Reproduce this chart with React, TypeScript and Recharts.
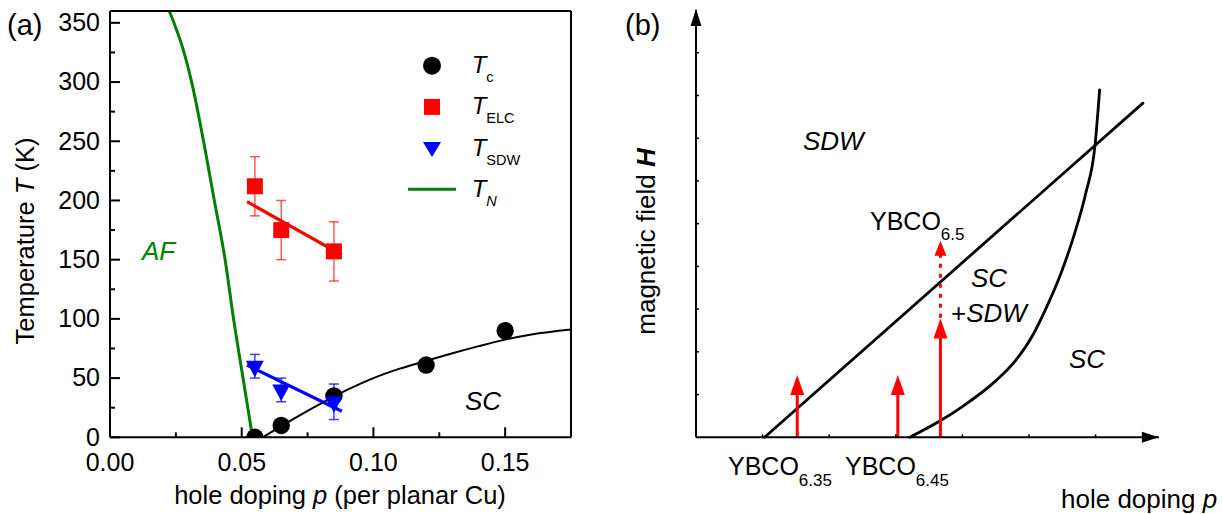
import React from 'react';
import { ComposedChart, Line, Scatter, XAxis, YAxis, ErrorBar, Legend } from 'recharts';

const FONT = '"Liberation Sans", Arial, Helvetica, sans-serif';
const GREEN = '#008000';
const RED = '#ff0000';
const BLUE = '#0000ff';

// ---- panel (a): phase diagram data ----
const tcPoints = [
  { p: 0.055, T: 0 },
  { p: 0.065, T: 10 },
  { p: 0.085, T: 35 },
  { p: 0.12, T: 61 },
  { p: 0.15, T: 90 },
];
const elcPoints = [
  { p: 0.055, T: 212, err: 25 },
  { p: 0.065, T: 175, err: 25 },
  { p: 0.085, T: 157, err: 25 },
];
const sdwPoints = [
  { p: 0.055, T: 60, err: 10 },
  { p: 0.065, T: 40, err: 10 },
  { p: 0.085, T: 30, err: 15 },
];
const elcFit = [
  { p: 0.052, T: 199 },
  { p: 0.088, T: 154 },
];
const sdwFit = [
  { p: 0.052, T: 61 },
  { p: 0.088, T: 22 },
];
const tcCurve = [
  { p: 0.058, T: 0 },
  { p: 0.065, T: 9.5 },
  { p: 0.07, T: 16 },
  { p: 0.08, T: 28.5 },
  { p: 0.09, T: 40 },
  { p: 0.1, T: 50 },
  { p: 0.11, T: 58 },
  { p: 0.12, T: 64.5 },
  { p: 0.13, T: 71 },
  { p: 0.14, T: 77 },
  { p: 0.15, T: 82.5 },
  { p: 0.16, T: 86.8 },
  { p: 0.175, T: 91 },
];
const tnCurve = [
  { p: 0.0225, T: 360 },
  { p: 0.0281, T: 325 },
  { p: 0.031, T: 300 },
  { p: 0.0361, T: 243 },
  { p: 0.0396, T: 200 },
  { p: 0.0437, T: 150 },
  { p: 0.0469, T: 100 },
  { p: 0.0505, T: 50 },
  { p: 0.0541, T: 0 },
];
const xTicksA = [0, 0.025, 0.05, 0.075, 0.1, 0.125, 0.15];
const yTicksA = [0, 25, 50, 75, 100, 125, 150, 175, 200, 225, 250, 275, 300, 325, 350];

const legendItems = [
  { sub: 'c', shape: 'circle', color: '#000', italicSub: false },
  { sub: 'ELC', shape: 'square', color: RED, italicSub: false },
  { sub: 'SDW', shape: 'triangle', color: BLUE, italicSub: false },
  { sub: 'N', shape: 'line', color: GREEN, italicSub: true },
];

// ---- panel (b): schematic H-p diagram (arbitrary units) ----
const sdwBoundary = [
  { u: 1.03, v: 0 },
  { u: 6.71, v: 7.82 },
];
const scBoundary = [
  { u: 3.21, v: 0 },
  { u: 3.66, v: 0.38 },
  { u: 4.0, v: 0.72 },
  { u: 4.5, v: 1.32 },
  { u: 4.8, v: 1.8 },
  { u: 5.06, v: 2.4 },
  { u: 5.25, v: 3.0 },
  { u: 5.47, v: 3.8 },
  { u: 5.68, v: 4.75 },
  { u: 5.85, v: 5.7 },
  { u: 5.99, v: 6.82 },
  { u: 6.06, v: 8.13 },
];
const shaft635 = [
  { u: 1.52, v: 0 },
  { u: 1.52, v: 1.08 },
];
const shaft645 = [
  { u: 3.03, v: 0 },
  { u: 3.03, v: 1.08 },
];
const shaft65 = [
  { u: 3.67, v: 0 },
  { u: 3.67, v: 2.4 },
];
const shaft65Dotted = [
  { u: 3.67, v: 2.8 },
  { u: 3.67, v: 4.3 },
];
const arrowTips = [
  { u: 1.52, v: 1.46, small: false },
  { u: 3.03, v: 1.46, small: false },
  { u: 3.67, v: 2.78, small: false },
  { u: 3.67, v: 4.6, small: true },
];
const xArrow = [{ u: 6.95, v: 0 }];
const yArrow = [{ u: 0, v: 10 }];
const xTicksB = [1, 2, 3, 4, 5, 6];
const yTicksB = [1, 2, 3, 4, 5, 6, 7, 8, 9];

const isMajorX = (v: number) => Math.round(v * 1000) % 50 === 0;

const BottomTick = (props: any) => {
  const { x, y, payload } = props;
  const major = isMajorX(payload.value);
  return (
    <g>
      <line x1={x} x2={x} y1={y} y2={y - (major ? 10 : 5)} stroke="#000" strokeWidth={2} />
      {major && (
        <text x={x} y={y + 33.5} textAnchor="middle" fontSize={25} fill="#000" fontFamily={FONT}>
          {payload.value.toFixed(2)}
        </text>
      )}
    </g>
  );
};

const TopTick = (props: any) => {
  const { x, y, payload } = props;
  const major = isMajorX(payload.value);
  return <line x1={x} x2={x} y1={y} y2={y + (major ? 10 : 5)} stroke="#000" strokeWidth={2} />;
};

const LeftTick = (props: any) => {
  const { x, y, payload } = props;
  const major = payload.value % 50 === 0;
  return (
    <g>
      <line x1={x} x2={x + (major ? 10 : 5)} y1={y} y2={y} stroke="#000" strokeWidth={2} />
      {major && (
        <text x={x - 10} y={y} dy="0.33em" textAnchor="end" fontSize={25} fill="#000" fontFamily={FONT}>
          {payload.value}
        </text>
      )}
    </g>
  );
};

const RightTick = (props: any) => {
  const { x, y, payload } = props;
  const major = payload.value % 50 === 0;
  return <line x1={x} x2={x - (major ? 10 : 5)} y1={y} y2={y} stroke="#000" strokeWidth={2} />;
};

const SmallTickB = (props: any) => {
  const { x, y } = props;
  return <line x1={x} x2={x} y1={y} y2={y - 3} stroke="#000" strokeWidth={1.5} />;
};
const SmallTickL = (props: any) => {
  const { x, y } = props;
  return <line x1={x} x2={x + 3} y1={y} y2={y} stroke="#000" strokeWidth={1.5} />;
};

const CircleShape = (props: any) => <circle cx={props.cx} cy={props.cy} r={8.7} fill="#000" />;
const SquareShape = (props: any) => (
  <rect x={props.cx - 8} y={props.cy - 8} width={16} height={16} fill={RED} />
);
const TriangleShape = (props: any) => {
  const { cx, cy } = props;
  return <polygon points={`${cx - 9},${cy - 5.5} ${cx + 9},${cy - 5.5} ${cx},${cy + 11}`} fill={BLUE} />;
};
const RedHead = (props: any) => {
  const { cx, cy, payload } = props;
  const h = payload.small ? 15 : 20;
  const w = payload.small ? 6 : 7;
  return <polygon points={`${cx},${cy} ${cx - w},${cy + h} ${cx + w},${cy + h}`} fill={RED} />;
};
const XArrowHead = (props: any) => {
  const { cx, cy } = props;
  return <polygon points={`${cx},${cy} ${cx - 17},${cy - 5.5} ${cx - 17},${cy + 5.5}`} fill="#000" />;
};
const YArrowHead = (props: any) => {
  const { cx, cy } = props;
  return <polygon points={`${cx},${cy - 1} ${cx - 5.5},${cy + 16} ${cx + 5.5},${cy + 16}`} fill="#000" />;
};

const LegendContent = () => (
  <svg width={140} height={180} style={{ overflow: 'visible' }}>
    {legendItems.map((it, i) => {
      const cy = 25.7 + i * 41.2;
      const mx = 32;
      let mark: React.ReactNode = null;
      if (it.shape === 'circle') mark = <circle cx={mx} cy={cy} r={9} fill={it.color} />;
      if (it.shape === 'square') mark = <rect x={mx - 8} y={cy - 8} width={16} height={16} fill={it.color} />;
      if (it.shape === 'triangle')
        mark = <polygon points={`${mx - 9},${cy - 6} ${mx + 9},${cy - 6} ${mx},${cy + 9}`} fill={it.color} />;
      if (it.shape === 'line') mark = <line x1={mx - 24} x2={mx + 24} y1={cy} y2={cy} stroke={it.color} strokeWidth={3} />;
      return (
        <g key={it.sub}>
          {mark}
          <text x={71.7} y={cy + 7.5} fontFamily={FONT} fill="#000">
            <tspan fontSize={24} fontStyle="italic">T</tspan>
            <tspan fontSize={14.5} dy={9} fontStyle={it.italicSub ? 'italic' : 'normal'}>{it.sub}</tspan>
          </text>
        </g>
      );
    })}
  </svg>
);

const axisStroke = { stroke: '#000', strokeWidth: 2 };

const App: React.FC = () => {
  return (
    <div style={{ position: 'absolute', left: 0, top: 0, width: 1223, height: 514, background: '#fff', fontFamily: FONT }}>
      <div style={{ position: 'absolute', left: 0, top: 0 }}>
        <ComposedChart width={600} height={514} margin={{ top: 1, right: 19, bottom: 36.7, left: 50 }}>
          <XAxis
            dataKey="p"
            type="number"
            domain={[0, 0.175]}
            ticks={xTicksA}
            interval={0}
            allowDataOverflow
            height={40}
            tickSize={0}
            tickMargin={0}
            axisLine={axisStroke}
            tick={<BottomTick />}
          />
          <XAxis
            xAxisId="top"
            orientation="top"
            type="number"
            domain={[0, 0.175]}
            ticks={xTicksA}
            interval={0}
            height={10}
            tickSize={0}
            tickMargin={0}
            axisLine={axisStroke}
            tick={<TopTick />}
          />
          <YAxis
            type="number"
            domain={[0, 360]}
            ticks={yTicksA}
            interval={0}
            allowDataOverflow
            width={60}
            tickSize={0}
            tickMargin={0}
            axisLine={axisStroke}
            tick={<LeftTick />}
          />
          <YAxis
            yAxisId="right"
            orientation="right"
            type="number"
            domain={[0, 360]}
            ticks={yTicksA}
            interval={0}
            width={10}
            tickSize={0}
            tickMargin={0}
            axisLine={axisStroke}
            tick={<RightTick />}
          />
          <Scatter data={tcPoints} dataKey="T" shape={<CircleShape />} isAnimationActive={false} />
          <Line data={tcCurve} dataKey="T" type="monotone" stroke="#000" strokeWidth={2} dot={false} activeDot={false} isAnimationActive={false} />
          <Scatter data={elcPoints} dataKey="T" shape={<SquareShape />} isAnimationActive={false}>
            <ErrorBar dataKey="err" direction="y" width={5} stroke={RED} strokeOpacity={0.65} strokeWidth={1.5} />
          </Scatter>
          <Line data={elcFit} dataKey="T" type="linear" stroke={RED} strokeWidth={3.2} dot={false} activeDot={false} isAnimationActive={false} />
          <Scatter data={sdwPoints} dataKey="T" shape={<TriangleShape />} isAnimationActive={false}>
            <ErrorBar dataKey="err" direction="y" width={5} stroke={BLUE} strokeOpacity={0.75} strokeWidth={1.5} />
          </Scatter>
          <Line data={sdwFit} dataKey="T" type="linear" stroke={BLUE} strokeWidth={3.2} dot={false} activeDot={false} isAnimationActive={false} />
          <Line data={tnCurve} dataKey="T" type="monotone" stroke={GREEN} strokeWidth={3} dot={false} activeDot={false} isAnimationActive={false} />
          <Legend
            content={<LegendContent />}
            layout="horizontal"
            verticalAlign="middle"
            align="center"
            wrapperStyle={{ left: 400, top: 40, width: 140, height: 180 }}
          />
        </ComposedChart>
      </div>

      <div style={{ position: 'absolute', left: 600, top: 0 }}>
        <ComposedChart width={623} height={514} margin={{ top: 10, right: 64.1, bottom: 36.7, left: 36 }}>
          <XAxis
            dataKey="u"
            type="number"
            domain={[0, 6.95]}
            ticks={xTicksB}
            interval={0}
            height={40}
            tickSize={0}
            tickMargin={0}
            axisLine={axisStroke}
            tick={<SmallTickB />}
          />
          <YAxis
            type="number"
            domain={[0, 10]}
            ticks={yTicksB}
            interval={0}
            width={60}
            tickSize={0}
            tickMargin={0}
            axisLine={axisStroke}
            tick={<SmallTickL />}
          />
          <Line data={sdwBoundary} dataKey="v" type="linear" stroke="#000" strokeWidth={2.8} strokeLinecap="round" dot={false} activeDot={false} isAnimationActive={false} />
          <Line data={scBoundary} dataKey="v" type="monotone" stroke="#000" strokeWidth={2.8} strokeLinecap="round" dot={false} activeDot={false} isAnimationActive={false} />
          <Line data={shaft635} dataKey="v" type="linear" stroke={RED} strokeWidth={3} dot={false} activeDot={false} isAnimationActive={false} />
          <Line data={shaft645} dataKey="v" type="linear" stroke={RED} strokeWidth={3} dot={false} activeDot={false} isAnimationActive={false} />
          <Line data={shaft65} dataKey="v" type="linear" stroke={RED} strokeWidth={3} dot={false} activeDot={false} isAnimationActive={false} />
          <Line data={shaft65Dotted} dataKey="v" type="linear" stroke={RED} strokeWidth={3} strokeDasharray="4 6" dot={false} activeDot={false} isAnimationActive={false} />
          <Scatter data={arrowTips} dataKey="v" shape={<RedHead />} isAnimationActive={false} />
          <Scatter data={xArrow} dataKey="v" shape={<XArrowHead />} isAnimationActive={false} />
          <Scatter data={yArrow} dataKey="v" shape={<YArrowHead />} isAnimationActive={false} />
        </ComposedChart>
      </div>

      <svg width={1223} height={514} style={{ position: 'absolute', left: 0, top: 0, pointerEvents: 'none' }} fontFamily={FONT}>
        {/* panel (a) labels */}
        <text x={7} y={35} fontSize={29}>(a)</text>
        <text x={340} y={504} fontSize={25.5} textAnchor="middle">
          hole doping <tspan fontStyle="italic">p</tspan> (per planar Cu)
        </text>
        <text x={34} y={241} fontSize={25.5} textAnchor="middle" transform="rotate(-90 34 241)">
          Temperature <tspan fontStyle="italic">T</tspan> (K)
        </text>
        <text x={142} y={260} fontSize={26} fontStyle="italic" fill={GREEN}>AF</text>
        <text x={465} y={410} fontSize={26} fontStyle="italic">SC</text>

        {/* panel (b) labels */}
        <text x={625} y={35} fontSize={29}>(b)</text>
        <text x={655} y={241.5} fontSize={26} textAnchor="middle" transform="rotate(-90 655 241.5)">
          magnetic field <tspan fontStyle="italic" fontWeight="bold">H</tspan>
        </text>
        <text x={803} y={150} fontSize={26} fontStyle="italic">SDW</text>
        <text x={870} y={230} fontSize={25}>
          YBCO<tspan fontSize={17} dy={10}>6.5</tspan>
        </text>
        <text x={971} y={287} fontSize={26} fontStyle="italic">SC</text>
        <text x={951} y={322} fontSize={26}>
          +<tspan fontStyle="italic">SDW</tspan>
        </text>
        <text x={1069} y={368} fontSize={26} fontStyle="italic">SC</text>
        <text x={728} y={475} fontSize={25}>
          YBCO<tspan fontSize={17} dy={11}>6.35</tspan>
        </text>
        <text x={845} y={475} fontSize={25}>
          YBCO<tspan fontSize={17} dy={11}>6.45</tspan>
        </text>
        <text x={1061} y={508} fontSize={26}>
          hole doping <tspan fontStyle="italic">p</tspan>
        </text>
      </svg>
    </div>
  );
};

export default App;
